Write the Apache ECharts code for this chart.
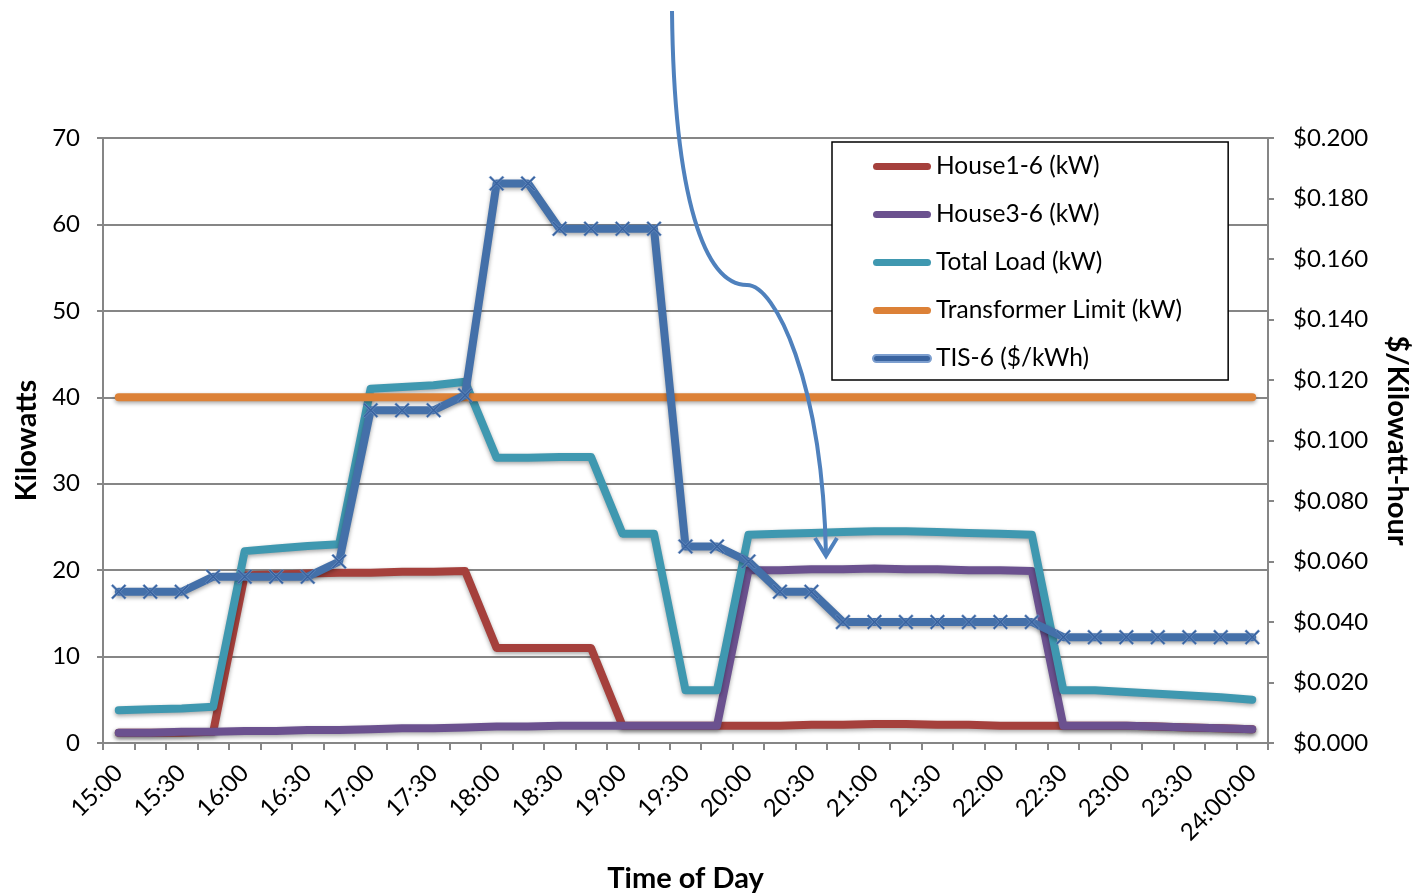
<!DOCTYPE html>
<html>
<head>
<meta charset="utf-8">
<script src="https://cdn.jsdelivr.net/npm/echarts@6/dist/echarts.min.js"></script>
<style>html,body{margin:0;padding:0;background:#fff}#c{width:1412px;height:896px}</style>
</head>
<body>
<div id="c"></div>
<script>
const categories = ['15:00','15:15','15:30','15:45','16:00','16:15','16:30','16:45','17:00','17:15','17:30','17:45',
  '18:00','18:15','18:30','18:45','19:00','19:15','19:30','19:45','20:00','20:15','20:30','20:45','21:00','21:15',
  '21:30','21:45','22:00','22:15','22:30','22:45','23:00','23:15','23:30','23:45','24:00:00'];
const house1 = [1.2,1.2,1.2,1.3,19.4,19.5,19.6,19.7,19.7,19.8,19.8,19.9,11.0,11.0,11.0,11.0,2.0,2.0,2.0,2.0,
  2.0,2.0,2.1,2.1,2.2,2.2,2.1,2.1,2.0,2.0,2.0,2.0,2.0,1.9,1.8,1.7,1.6];
const house3 = [1.2,1.2,1.3,1.3,1.4,1.4,1.5,1.5,1.6,1.7,1.7,1.8,1.9,1.9,2.0,2.0,2.0,2.0,2.0,2.0,
  20.0,20.0,20.1,20.1,20.2,20.1,20.1,20.0,20.0,19.9,2.0,2.0,2.0,1.9,1.8,1.7,1.6];
const totalLoad = [3.8,3.9,4.0,4.2,22.2,22.5,22.8,23.0,41.0,41.2,41.4,41.8,33.0,33.0,33.1,33.1,24.2,24.2,6.1,6.1,
  24.1,24.2,24.3,24.4,24.5,24.5,24.4,24.3,24.2,24.1,6.1,6.1,5.9,5.7,5.5,5.3,5.0];
const transformerLimit = [40,40,40,40,40,40,40,40,40,40,40,40,40,40,40,40,40,40,40,40,
  40,40,40,40,40,40,40,40,40,40,40,40,40,40,40,40,40];
const tis6 = [0.05,0.05,0.05,0.055,0.055,0.055,0.055,0.06,0.11,0.11,0.11,0.115,0.185,0.185,0.17,0.17,0.17,0.17,
  0.065,0.065,0.06,0.05,0.05,0.04,0.04,0.04,0.04,0.04,0.04,0.04,0.035,0.035,0.035,0.035,0.035,0.035,0.035];
const leftTicks = {min:0, max:70, interval:10};
const rightTicks = {min:0, max:0.2, interval:0.02};

const FONT = 'Lato';
const shadow = {shadowBlur:4, shadowColor:'rgba(0,0,0,0.35)', shadowOffsetY:2};
const xPath = 'path://M1,0L5,4L9,0L10,1L6,5L10,9L9,10L5,6L1,10L0,9L4,5L0,1Z';
const barIcon = 'path://M3.5,0L54.5,0A3.5,3.5,0,0,1,54.5,7L3.5,7A3.5,3.5,0,0,1,3.5,0Z';

function lineSeries(name, data, color, yIdx, extra) {
  return Object.assign({
    name, type:'line', data, yAxisIndex:yIdx, symbol:'none', smooth:false,
    lineStyle:Object.assign({color, width:8, cap:'round', join:'round'}, shadow),
    itemStyle:{color}
  }, extra || {});
}

const chart = echarts.init(document.getElementById('c'), null, {renderer:'canvas'});
chart.setOption({
  animation:false,
  backgroundColor:'#fff',
  textStyle:{fontFamily:FONT},
  grid:{left:103, right:144, top:138, bottom:153, containLabel:false, outerBoundsMode:'none'},
  legend:{
    orient:'vertical', left:832, top:142,
    backgroundColor:'#fff', borderColor:'#000', borderWidth:1.5,
    padding:[12,46,9,40], itemWidth:58, itemHeight:7, itemGap:23,
    textStyle:{fontFamily:FONT, fontSize:24.5, color:'#000'},
    data:[
      {name:'House1-6 (kW)', icon:barIcon},
      {name:'House3-6 (kW)', icon:barIcon},
      {name:'Total Load (kW)', icon:barIcon},
      {name:'Transformer Limit (kW)', icon:barIcon},
      {name:'TIS-6 ($/kWh)', icon:barIcon}
    ]
  },
  xAxis:{
    type:'category', data:categories, boundaryGap:true,
    name:'Time of Day', nameLocation:'middle', nameGap:121,
    nameTextStyle:{fontFamily:FONT, fontSize:29, fontWeight:'bold', color:'#000'},
    axisLine:{lineStyle:{color:'#868686', width:2}},
    axisTick:{show:true, interval:0, length:7, lineStyle:{color:'#868686', width:2}},
    axisLabel:{interval:1, rotate:45, margin:26, fontFamily:FONT, fontSize:24, color:'#000'},
    splitLine:{show:false}
  },
  yAxis:[{
    type:'value', min:leftTicks.min, max:leftTicks.max, interval:leftTicks.interval,
    name:'Kilowatts', nameLocation:'middle', nameGap:62,
    nameTextStyle:{fontFamily:FONT, fontSize:29, fontWeight:'bold', color:'#000'},
    axisLine:{show:true, lineStyle:{color:'#868686', width:2}},
    axisTick:{show:true, length:6, lineStyle:{color:'#868686', width:2}},
    axisLabel:{margin:23, fontFamily:FONT, fontSize:24, color:'#000'},
    splitLine:{show:true, lineStyle:{color:'#868686', width:2}}
  },{
    type:'value', min:rightTicks.min, max:rightTicks.max, interval:rightTicks.interval,
    position:'right',
    name:'$/Kilowatt-hour', nameLocation:'middle', nameGap:115, nameRotate:-90,
    nameTextStyle:{fontFamily:FONT, fontSize:29, fontWeight:'bold', color:'#000'},
    axisLine:{show:true, lineStyle:{color:'#868686', width:2}},
    axisTick:{show:true, length:6, lineStyle:{color:'#868686', width:2}},
    axisLabel:{margin:25, fontFamily:FONT, fontSize:24, color:'#000', formatter:v => '$' + v.toFixed(3)},
    splitLine:{show:false}
  }],
  series:[
    lineSeries('House1-6 (kW)', house1, '#a5403c', 0),
    lineSeries('House3-6 (kW)', house3, '#6b518f', 0),
    lineSeries('Total Load (kW)', totalLoad, '#3f98b0', 0),
    lineSeries('Transformer Limit (kW)', transformerLimit, '#dc8137', 0),
    lineSeries('TIS-6 ($/kWh)', tis6, '#4470a9', 1, {
      symbol:xPath, symbolSize:15, showSymbol:true,
      itemStyle:{color:'#3a64a0', borderColor:'#7d9fcf', borderWidth:0.5}
    })
  ],
  graphic:[
    {type:'bezierCurve', shape:{x1:672,y1:11,cpx1:674,cpy1:200,cpx2:705,cpy2:285,x2:747,y2:285},
     style:{stroke:'#4f81bd', lineWidth:4, fill:null}, z:100},
    {type:'bezierCurve', shape:{x1:747,y1:285,cpx1:775,cpy1:285,cpx2:822,cpy2:380,x2:826,y2:554},
     style:{stroke:'#4f81bd', lineWidth:4, fill:null}, z:100},
    {type:'polyline', shape:{points:[[815,538],[826,556],[837,538]]},
     style:{stroke:'#4f81bd', lineWidth:4, fill:null, lineJoin:'miter'}, z:100}
  ]
});
</script>
</body>
</html>
